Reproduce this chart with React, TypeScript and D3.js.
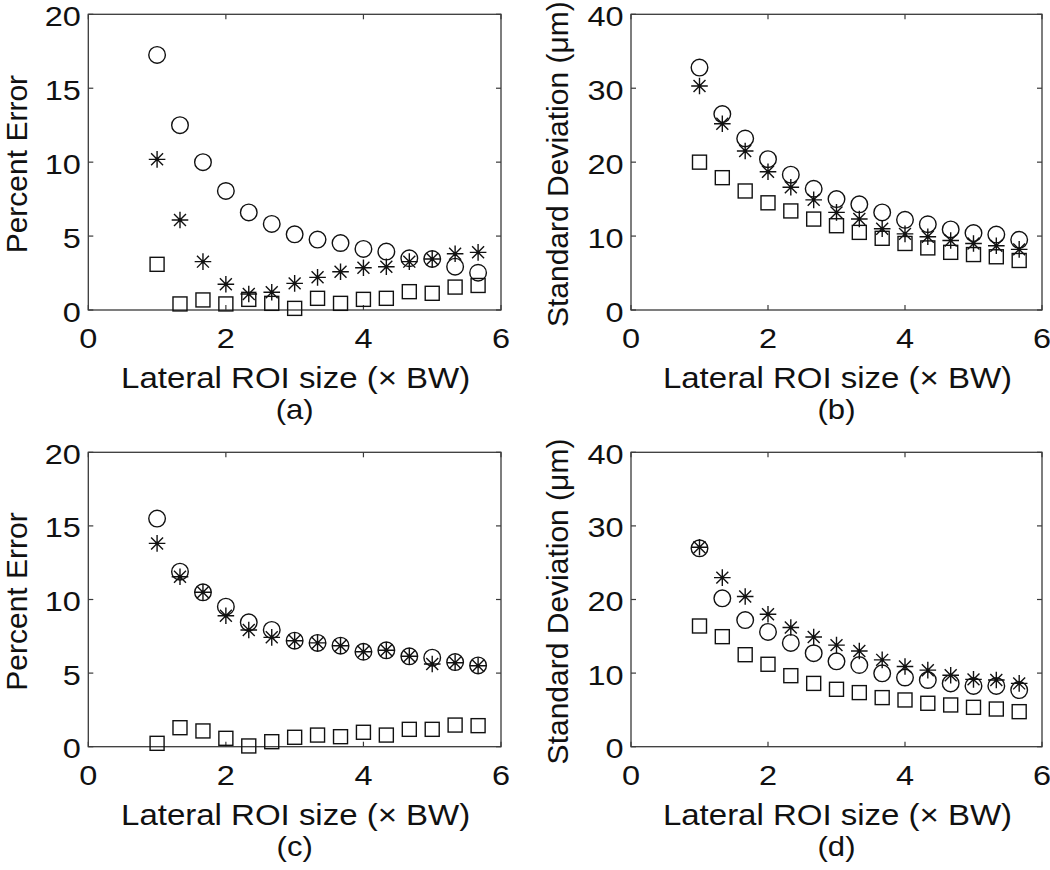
import React, { useEffect, useRef } from "react";
import * as d3 from "d3";

// Lateral ROI size (× BW)
const roiSize = [1, 1.333, 1.667, 2, 2.333, 2.667, 3, 3.333, 3.667, 4, 4.333, 4.667, 5, 5.333, 5.667];

const xTicks = [0, 2, 4, 6];
const errTicks = [0, 5, 10, 15, 20];
const sdTicks = [0, 10, 20, 30, 40];

// (a) Percent error
const aCircle = [17.25, 12.5, 10.0, 8.05, 6.6, 5.82, 5.12, 4.76, 4.53, 4.13, 3.95, 3.5, 3.45, 2.93, 2.52];
const aStar = [10.19, 6.09, 3.27, 1.74, 1.08, 1.2, 1.8, 2.21, 2.59, 2.86, 2.93, 3.27, 3.45, 3.8, 3.9];
const aSquare = [3.09, 0.41, 0.68, 0.41, 0.72, 0.45, 0.11, 0.79, 0.45, 0.72, 0.79, 1.24, 1.13, 1.55, 1.66];

// (b) Standard deviation (µm)
const bCircle = [32.8, 26.5, 23.2, 20.4, 18.3, 16.4, 15.0, 14.3, 13.2, 12.2, 11.6, 10.9, 10.4, 10.2, 9.5];
const bStar = [30.3, 25.2, 21.5, 18.7, 16.6, 14.9, 13.2, 12.3, 11.0, 10.3, 9.9, 9.4, 9.0, 8.7, 8.2];
const bSquare = [20.0, 17.9, 16.1, 14.5, 13.4, 12.3, 11.4, 10.5, 9.7, 9.0, 8.4, 7.8, 7.5, 7.2, 6.7];

// (c) Percent error
const cCircle = [15.5, 11.89, 10.49, 9.51, 8.45, 7.93, 7.2, 7.05, 6.86, 6.45, 6.55, 6.14, 6.05, 5.75, 5.52];
const cStar = [13.81, 11.55, 10.49, 8.9, 7.93, 7.43, 7.2, 7.05, 6.86, 6.45, 6.55, 6.14, 5.62, 5.7, 5.5];
const cSquare = [0.23, 1.29, 1.07, 0.57, 0.05, 0.34, 0.64, 0.79, 0.68, 0.98, 0.79, 1.18, 1.18, 1.47, 1.43];

// (d) Standard deviation (µm)
const dCircle = [26.95, 20.16, 17.2, 15.6, 14.1, 12.7, 11.6, 11.1, 9.97, 9.4, 9.06, 8.6, 8.25, 8.25, 7.7];
const dStar = [27.1, 22.97, 20.4, 18.0, 16.2, 14.9, 13.8, 13.0, 11.8, 10.9, 10.4, 9.7, 9.15, 9.06, 8.6];
const dSquare = [16.4, 14.95, 12.5, 11.2, 9.65, 8.6, 7.8, 7.35, 6.67, 6.35, 5.9, 5.67, 5.35, 5.12, 4.76];

const FONT = "'Liberation Sans', Arial, Helvetica, sans-serif";
const INK = "#111";
const AXIS = "#3a3a3a";

export default function App() {
  const ref = useRef<SVGSVGElement | null>(null);

  useEffect(() => {
    const svg = d3.select(ref.current);
    svg.selectAll("*").remove();

    const addText = (
      g: any, x: number, y: number, str: string, size: number, anchor: string, sx: number
    ) => {
      g.append("text")
        .attr("transform", `translate(${x},${y}) scale(${sx},1)`)
        .attr("text-anchor", anchor)
        .attr("font-family", FONT)
        .attr("font-size", size)
        .attr("fill", INK)
        .text(str);
    };

    const panels = [
      { left: 88.3, right: 501, top: 14.3, bottom: 310, yMax: 20, yTicks: errTicks, ylabel: "Percent Error", ylabX: 27, circle: aCircle, star: aStar, square: aSquare, tag: "(a)" },
      { left: 631, right: 1042, top: 14.3, bottom: 310, yMax: 40, yTicks: sdTicks, ylabel: "Standard Deviation (\u03bcm)", ylabX: 568, circle: bCircle, star: bStar, square: bSquare, tag: "(b)" },
      { left: 88.3, right: 501, top: 452.3, bottom: 746.7, yMax: 20, yTicks: errTicks, ylabel: "Percent Error", ylabX: 27, circle: cCircle, star: cStar, square: cSquare, tag: "(c)" },
      { left: 631, right: 1042, top: 452.3, bottom: 746.7, yMax: 40, yTicks: sdTicks, ylabel: "Standard Deviation (\u03bcm)", ylabX: 568, circle: dCircle, star: dStar, square: dSquare, tag: "(d)" },
    ];

    panels.forEach((p) => {
      const x = d3.scaleLinear().domain([0, 6]).range([p.left, p.right]);
      const y = d3.scaleLinear().domain([0, p.yMax]).range([p.bottom, p.top]);
      const g = svg.append("g");
      const tl = 5;

      // box
      g.append("rect")
        .attr("x", p.left).attr("y", p.top)
        .attr("width", p.right - p.left).attr("height", p.bottom - p.top)
        .attr("fill", "none").attr("stroke", AXIS).attr("stroke-width", 1.3);

      // ticks (inward, all four sides)
      xTicks.forEach((t) => {
        const xx = x(t);
        g.append("line").attr("x1", xx).attr("x2", xx).attr("y1", p.bottom).attr("y2", p.bottom - tl).attr("stroke", AXIS).attr("stroke-width", 1.2);
        g.append("line").attr("x1", xx).attr("x2", xx).attr("y1", p.top).attr("y2", p.top + tl).attr("stroke", AXIS).attr("stroke-width", 1.2);
        addText(g, xx, p.bottom + 38, String(t), 28, "middle", 1.16);
      });
      p.yTicks.forEach((t) => {
        const yy = y(t);
        g.append("line").attr("x1", p.left).attr("x2", p.left + tl).attr("y1", yy).attr("y2", yy).attr("stroke", AXIS).attr("stroke-width", 1.2);
        g.append("line").attr("x1", p.right).attr("x2", p.right - tl).attr("y1", yy).attr("y2", yy).attr("stroke", AXIS).attr("stroke-width", 1.2);
        addText(g, p.left - 7.5, yy + 11.5, String(t), 28, "end", 1.16);
      });

      // axis labels
      addText(g, (p.left + p.right) / 2 + 1, p.bottom + 78, "Lateral ROI size (\u00d7 BW)", 30, "middle", 1.1);
      addText(g, (p.left + p.right) / 2, p.bottom + 109, p.tag, 27, "middle", 1.15);
      g.append("text")
        .attr("transform", `translate(${p.ylabX},${(p.top + p.bottom) / 2 + 2}) rotate(-90)`)
        .attr("text-anchor", "middle").attr("font-family", FONT).attr("font-size", 30).attr("fill", INK)
        .text(p.ylabel);

      const mk = g.append("g").attr("fill", "none").attr("stroke", INK).attr("stroke-width", 1.4);

      // squares
      mk.selectAll("rect.sq").data(p.square).enter().append("rect")
        .attr("x", (d, i) => x(roiSize[i]) - 7).attr("y", (d) => y(d) - 7)
        .attr("width", 14).attr("height", 14);

      // circles
      mk.selectAll("circle.ci").data(p.circle).enter().append("circle")
        .attr("cx", (d, i) => x(roiSize[i])).attr("cy", (d) => y(d)).attr("r", 8.3);

      // asterisks
      const r = 8.3;
      const dg = r * 0.72;
      const starPath = `M${-r},0L${r},0M0,${-r}L0,${r}M${-dg},${-dg}L${dg},${dg}M${-dg},${dg}L${dg},${-dg}`;
      const st = mk.selectAll("g.st").data(p.star).enter().append("g")
        .attr("transform", (d, i) => `translate(${x(roiSize[i])},${y(d)})`);
      st.append("path").attr("d", starPath);
      st.append("circle").attr("r", 1.6).attr("fill", INK).attr("stroke", "none");
    });
  }, []);

  return (
    <svg
      ref={ref}
      width={1050}
      height={870}
      style={{ position: "absolute", left: 0, top: 0, background: "#fff", display: "block" }}
    />
  );
}
